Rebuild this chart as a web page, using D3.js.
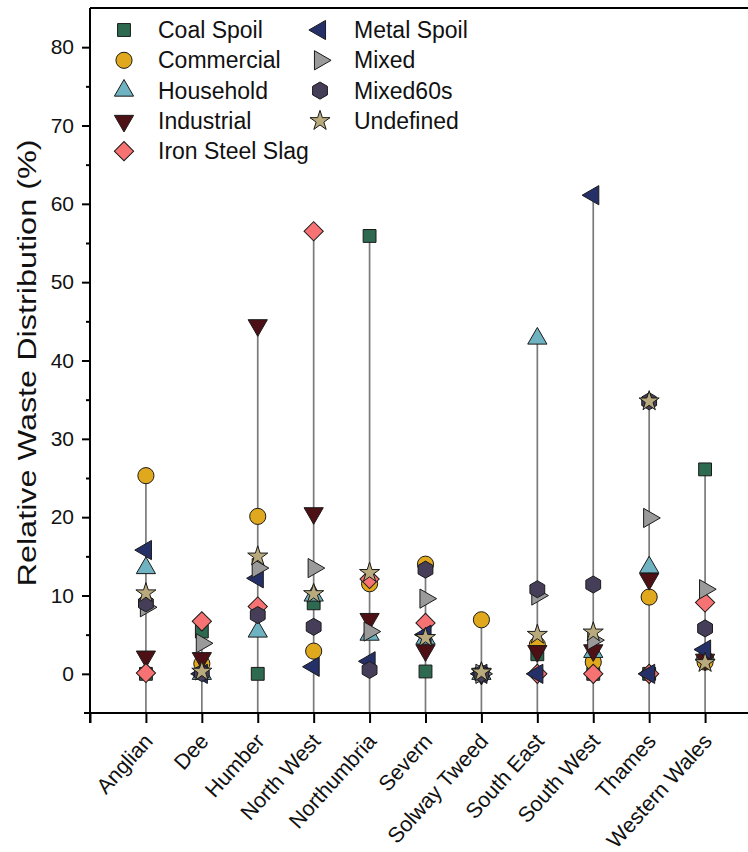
<!DOCTYPE html>
<html>
<head>
<meta charset="utf-8">
<script src="https://cdn.jsdelivr.net/npm/d3@7"></script>
<style>
  body { margin: 0; background: #fff; }
  svg { display: block; font-family: "Liberation Sans", Arial, sans-serif; }
</style>
</head>
<body>
<script>
// regions along the x axis
var regions = ["Anglian", "Dee", "Humber", "North West", "Northumbria", "Severn",
  "Solway Tweed", "South East", "South West", "Thames", "Western Wales"];

// relative waste distribution (%) per waste type, one value per region
var coalSpoil     = [0,    5.4, 0,    9.0, 55.9, 0.3,  0,   2.5,  0,    0,    26.1];
var commercial    = [25.3, 1.3, 20.1, 2.9, 11.5, 14.0, 6.9, 3.7,  1.5,  9.8,  1.5];
var household     = [13.5, 0,   5.4,  10.0, 5.0, 4.5,  0,   42.8, 2.8,  13.6, 2.5];
var industrial    = [2.2,  2.0, 44.5, 20.5, 7.0, 3.0,  0,   2.9,  3.0,  12.1, 1.8];
var ironSteelSlag = [0.1,  6.7, 8.6,  56.5, 12.1, 6.5, 0,   0,    0,    0,    9.1];
var metalSpoil    = [15.8, 0,   12.2, 0.9, 1.6,  5.0,  0,   0,    61.1, 0,    3.1];
var mixed         = [8.5,  3.9, 13.5, 13.5, 5.4, 9.6,  0,   10.0, 4.3,  19.9, 10.8];
var mixed60s      = [9.0,  0.1, 7.5,  6.0, 0.5,  13.3, 0,   10.8, 11.4, 34.8, 5.8];
var undefinedW    = [10.3, 0.3, 15.0, 10.2, 12.9, 4.6, 0.2, 5.0,  5.3,  34.8, 1.4];

var seriesNames = ["Coal Spoil", "Commercial", "Household", "Industrial", "Iron Steel Slag",
  "Metal Spoil", "Mixed", "Mixed60s", "Undefined"];
var seriesValues = [coalSpoil, commercial, household, industrial, ironSteelSlag,
  metalSpoil, mixed, mixed60s, undefinedW];
var seriesColors = ["#2e6a50", "#e0a81c", "#6fb3c2", "#4d1015", "#f77272",
  "#263068", "#9a9a9a", "#463e58", "#b8aa7c"];

var yTicks = [0, 10, 20, 30, 40, 50, 60, 70, 80];

var w = 748, h = 852;

var symbolHexagon = {
  draw: function(ctx, size) {
    var r = Math.sqrt(size / (1.5 * Math.sqrt(3)));
    for (var k = 0; k < 6; k++) {
      var a = -Math.PI / 2 + k * Math.PI / 3;
      if (k == 0) ctx.moveTo(r * Math.cos(a), r * Math.sin(a));
      else ctx.lineTo(r * Math.cos(a), r * Math.sin(a));
    }
    ctx.closePath();
  }
};

// marker per series: symbol type, area, rotation
var markers = [
  { type: d3.symbolSquare, size: 165, rot: 0 },
  { type: d3.symbolCircle, size: 205, rot: 0 },
  { type: d3.symbolTriangle, size: 160, rot: 0 },
  { type: d3.symbolTriangle, size: 160, rot: 180 },
  { type: d3.symbolSquare, size: 185, rot: 45 },
  { type: d3.symbolTriangle, size: 160, rot: -90 },
  { type: d3.symbolTriangle, size: 160, rot: 90 },
  { type: symbolHexagon, size: 190, rot: 0 },
  { type: d3.symbolStar, size: 125, rot: 0 }
];

var svg = d3.select("body").append("svg")
  .attr("width", w)
  .attr("height", h);

var x = d3.scaleLinear().domain([0, 12]).range([90, 761]);
var y = d3.scaleLinear().domain([-5, 85]).range([713, 8]);

// drop lines from axis to the largest value of each region
var maxima = regions.map(function(r, i) {
  return d3.max(seriesValues, function(s) { return s[i]; });
});
svg.append("g").selectAll("line")
  .data(maxima)
  .enter().append("line")
  .attr("x1", function(d, i) { return x(i + 1); })
  .attr("x2", function(d, i) { return x(i + 1); })
  .attr("y1", y(-5))
  .attr("y2", function(d) { return y(d); })
  .style("stroke", "#7a7a7a")
  .style("stroke-width", 1.7);

// axes
var yAxis = svg.append("g")
  .attr("transform", "translate(" + x(0) + ",0)")
  .call(d3.axisLeft(y).tickValues(yTicks).tickSize(8).tickPadding(8));
yAxis.select(".domain").remove();
yAxis.selectAll("line").style("stroke", "#000").style("stroke-width", 2);
yAxis.selectAll("text").style("font-size", "21px").style("fill", "#111")
  .style("font-family", "Liberation Sans, Arial, sans-serif");

var yMinor = svg.append("g")
  .attr("transform", "translate(" + x(0) + ",0)")
  .call(d3.axisLeft(y).tickValues(d3.range(5, 80, 10)).tickSize(4).tickFormat(""));
yMinor.select(".domain").remove();
yMinor.selectAll("line").style("stroke", "#000").style("stroke-width", 2);

var xAxis = svg.append("g")
  .attr("transform", "translate(0," + y(-5) + ")")
  .call(d3.axisBottom(x).tickValues(d3.range(0, 12)).tickSize(10).tickFormat(""));
xAxis.select(".domain").remove();
xAxis.selectAll("line").style("stroke", "#000").style("stroke-width", 2);

svg.append("line")
  .attr("x1", x(0)).attr("x2", x(0))
  .attr("y1", y(85)).attr("y2", y(-5) + 10)
  .style("stroke", "#000").style("stroke-width", 2);
svg.append("line")
  .attr("x1", x(0) - 6).attr("x2", w)
  .attr("y1", y(-5)).attr("y2", y(-5))
  .style("stroke", "#000").style("stroke-width", 2);
svg.append("line")
  .attr("x1", x(0)).attr("x2", w)
  .attr("y1", y(85)).attr("y2", y(85))
  .style("stroke", "#000").style("stroke-width", 2);

// x labels
svg.append("g").selectAll("text")
  .data(regions)
  .enter().append("text")
  .attr("transform", function(d, i) {
    return "translate(" + (x(i + 1) + 8) + "," + (y(-5) + 29) + ")rotate(-48)";
  })
  .attr("text-anchor", "end")
  .style("font-size", "21.5px")
  .style("fill", "#111")
  .text(function(d) { return d; });

// y title
svg.append("text")
  .attr("transform", "translate(36,363)rotate(-90)")
  .attr("text-anchor", "middle")
  .attr("textLength", 447)
  .attr("lengthAdjust", "spacingAndGlyphs")
  .style("font-size", "26px")
  .style("fill", "#111")
  .text("Relative Waste Distribution (%)");

function markerPath(m) {
  return d3.symbol().type(m.type).size(m.size)();
}

// points, drawn series by series in legend order
seriesValues.forEach(function(vals, s) {
  var m = markers[s];
  svg.append("g").selectAll("path")
    .data(vals)
    .enter().append("path")
    .attr("d", markerPath(m))
    .attr("transform", function(d, i) {
      return "translate(" + x(i + 1) + "," + y(d) + ")rotate(" + m.rot + ")";
    })
    .style("fill", seriesColors[s])
    .style("stroke", "#1a1a1a")
    .style("stroke-width", 1);
});

// legend
var legend = svg.append("g");
seriesNames.forEach(function(name, s) {
  var col = s < 5 ? 0 : 1;
  var row = s < 5 ? s : s - 5;
  var mx = col == 0 ? 124 : 320;
  var my = 30 + row * 30.3;
  var m = markers[s];
  legend.append("path")
    .attr("d", markerPath(m))
    .attr("transform", "translate(" + mx + "," + my + ")rotate(" + m.rot + ")")
    .style("fill", seriesColors[s])
    .style("stroke", "#1a1a1a")
    .style("stroke-width", 1);
  legend.append("text")
    .attr("x", mx + 34)
    .attr("y", my)
    .attr("dy", "0.35em")
    .style("font-size", "23px")
    .style("fill", "#111")
    .text(name);
});
</script>
</body>
</html>
